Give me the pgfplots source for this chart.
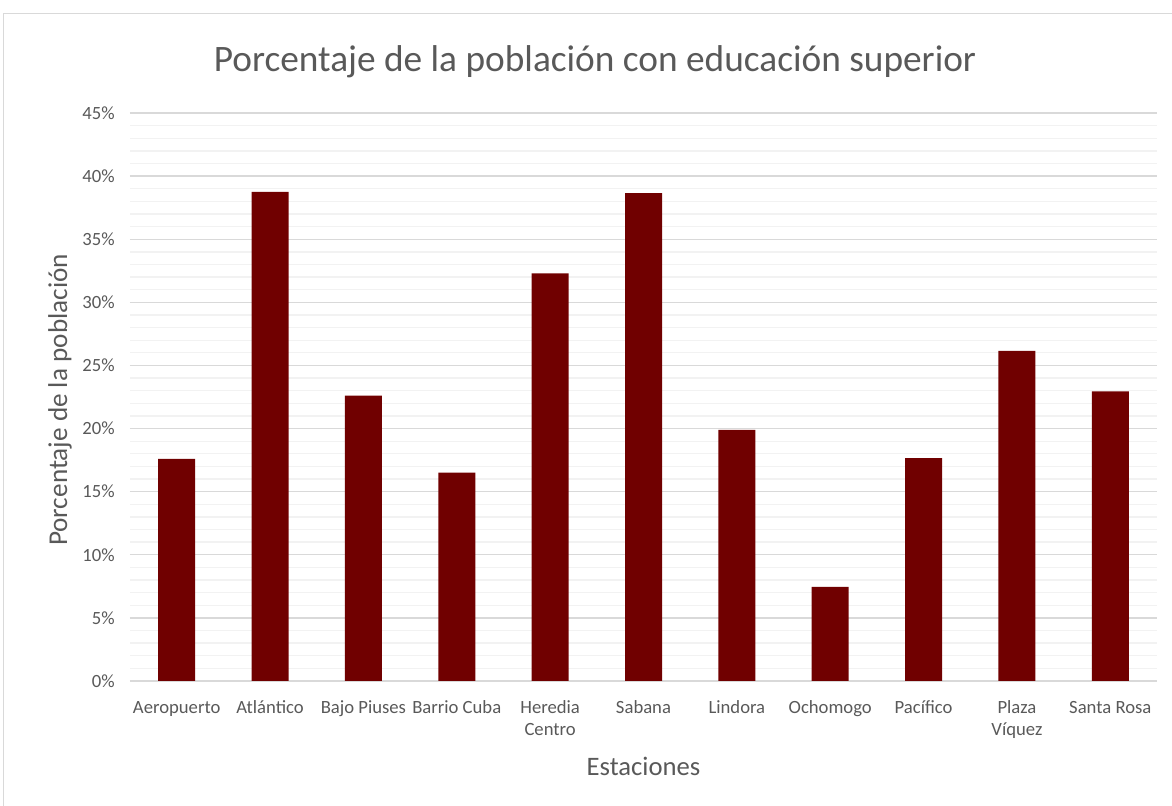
\documentclass[border=0pt]{standalone}
\usepackage{pgfplots}
\pgfplotsset{compat=1.18}
\usepackage{fontspec}
\setmainfont{Carlito}
\definecolor{barred}{HTML}{700000}
\definecolor{txtgray}{HTML}{595959}
\definecolor{majgrid}{HTML}{D9D9D9}
\definecolor{mingrid}{HTML}{F2F2F2}
\definecolor{framegray}{HTML}{D9D9D9}
\begin{document}
\begin{tikzpicture}[x=0.75pt,y=0.75pt]
\path[use as bounding box] (0,0) rectangle (1172,806);
\draw[framegray, line width=0.75pt] (3.5,-10) -- (3.5,792) -- (1180,792);
\begin{axis}[
  at={(97.5pt,93.75pt)}, anchor=south west,
  scale only axis, width=770.25pt, height=426pt,
  ymin=0, ymax=45, xmin=-0.5, xmax=10.5,
  ybar, bar width=27.75pt,
  axis line style={draw=none},
  major tick length=0pt, minor tick length=0pt,
  ytick={0,5,...,45},
  minor y tick num=4,
  ymajorgrids, yminorgrids,
  major grid style={majgrid, line width=1pt},
  minor grid style={mingrid, line width=1pt},
  xtick={0,...,10},
  xticklabels={\strut Aeropuerto,\strut Atlántico,\strut Bajo Piuses,\strut Barrio Cuba,{\strut Heredia\\Centro},\strut Sabana,\strut Lindora,\strut Ochomogo,\strut Pacífico,{\strut Plaza\\Víquez},\strut Santa Rosa},
  /pgf/number format/assume math mode=true,
  yticklabel={\pgfmathprintnumber{\tick}\%},
  ticklabel style={font=\fontsize{14}{16.5}\selectfont, text=txtgray},
  xticklabel style={align=center, yshift=-9pt},
  yticklabel style={xshift=-8pt},
  title={Porcentaje de la población con educación superior},
  title style={font=\fontsize{28}{33}\selectfont, text=txtgray, at={(axis description cs:0.4528,1.0757)}, anchor=center},
  xlabel={Estaciones},
  xlabel style={font=\fontsize{20}{24}\selectfont, text=txtgray, at={(axis description cs:0.5,-0.1496)}, anchor=center},
  ylabel={Porcentaje de la población},
  ylabel style={font=\fontsize{20.4}{24}\selectfont, text=txtgray, at={(axis description cs:-0.0682,0.4947)}, anchor=center, rotate=0},
]
\addplot[fill=barred, draw=none] coordinates {
  (0,17.6) (1,38.75) (2,22.6) (3,16.5) (4,32.3) (5,38.65) (6,19.9) (7,7.45) (8,17.65) (9,26.15) (10,22.95)
};
\end{axis}
\end{tikzpicture}
\end{document}
